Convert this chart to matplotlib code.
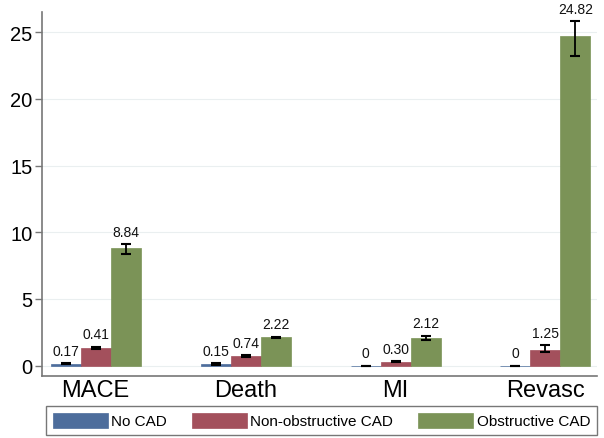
import matplotlib
matplotlib.use("Agg")
import matplotlib.pyplot as plt
import numpy as np

plt.rcParams['font.family'] = ['Liberation Sans', 'DejaVu Sans']

categories = ["MACE", "Death", "MI", "Revasc"]
series = ["No CAD", "Non-obstructive CAD", "Obstructive CAD"]
colors = ["#4d6d9c", "#a3505c", "#7b9357"]

# bar heights (as drawn)
no_cad = [0.15, 0.12, 0.0, 0.0]
nonobs = [1.35, 0.70, 0.28, 1.20]
obs = [8.80, 2.12, 2.08, 24.75]
values = [no_cad, nonobs, obs]

# error bar lower / upper extents
no_cad_err_lo = [0.06, 0.05, 0.0, 0.0]
no_cad_err_hi = [0.06, 0.05, 0.0, 0.0]
nonobs_err_lo = [0.08, 0.07, 0.04, 0.15]
nonobs_err_hi = [0.08, 0.07, 0.04, 0.35]
obs_err_lo = [0.45, 0.06, 0.13, 1.55]
obs_err_hi = [0.30, 0.06, 0.17, 1.10]
err_lo = [no_cad_err_lo, nonobs_err_lo, obs_err_lo]
err_hi = [no_cad_err_hi, nonobs_err_hi, obs_err_hi]

# value labels (as printed)
no_cad_labels = ["0.17", "0.15", "0", "0"]
nonobs_labels = ["0.41", "0.74", "0.30", "1.25"]
obs_labels = ["8.84", "2.22", "2.12", "24.82"]
labels = [no_cad_labels, nonobs_labels, obs_labels]

fig = plt.figure(figsize=(6.04, 4.39), dpi=100)
ax = fig.add_axes([0.0695, 0.1405, 0.9185, 0.8295])

x = np.arange(len(categories))
w = 0.2
handles = []
for i in range(3):
    xs = x + (i - 1) * w
    vals = np.array(values[i])
    b = ax.bar(xs, vals, width=w, color=colors[i], edgecolor=colors[i],
               linewidth=0.5, label=series[i], zorder=2)
    handles.append(b)
    ax.errorbar(xs, vals, yerr=[err_lo[i], err_hi[i]], fmt='none',
                ecolor='black', elinewidth=1.3, capsize=3.5, capthick=1.5, zorder=3)
    for xx, v, eh, lab in zip(xs, vals, err_hi[i], labels[i]):
        ax.text(xx, v + eh + 0.4, lab, ha='center', va='bottom',
                fontsize=10, color='#111111', zorder=4)

ax.set_xlim(-0.358, 3.342)
ax.set_ylim(-0.8, 26.5)
ax.set_yticks([0, 5, 10, 15, 20, 25])
ax.set_yticklabels(["0", "5", "10", "15", "20", "25"])
ax.set_xticks(x)
ax.set_xticklabels(categories, fontsize=17)
ax.tick_params(axis='x', length=0, pad=2)
ax.tick_params(axis='y', labelsize=14.5, length=5, width=1, color='#777777', pad=2)
ax.yaxis.grid(True, color='#eaeff0', linewidth=0.8, zorder=0)
ax.set_axisbelow(True)
for s in ['top', 'right']:
    ax.spines[s].set_visible(False)
for s in ['left', 'bottom']:
    ax.spines[s].set_color('#777777')
    ax.spines[s].set_linewidth(1.2)

leg = fig.legend(handles=handles, labels=series, loc='center',
                 bbox_to_anchor=(0.532, 0.0394), ncol=3, fontsize=11,
                 handlelength=3.6, handleheight=1.1, handletextpad=0.25,
                 columnspacing=1.6, frameon=True, fancybox=False,
                 borderpad=0.45, borderaxespad=0)
leg.get_frame().set_edgecolor('#555555')
leg.get_frame().set_linewidth(1.0)

fig.savefig("out.png", dpi=100)
